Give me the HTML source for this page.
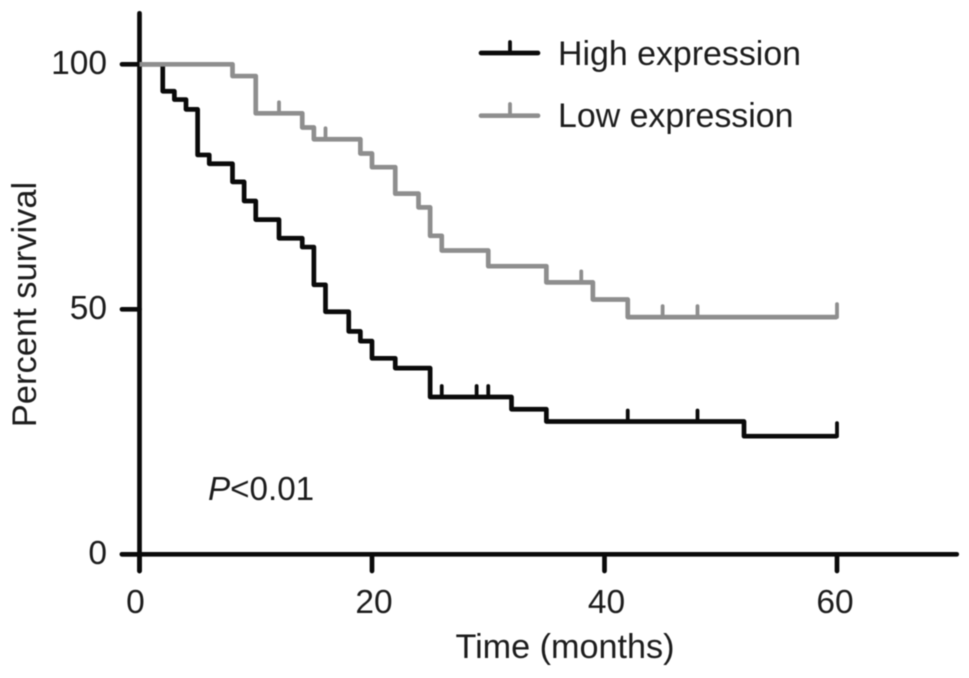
<!DOCTYPE html>
<html lang="en">
<head>
<meta charset="utf-8">
<title>Survival chart</title>
<style>
html,body{margin:0;padding:0;background:#fff;width:969px;height:678px;overflow:hidden}
svg{display:block;filter:blur(0.6px)}
text{font-family:"Liberation Sans",Arial,sans-serif;font-size:33.5px;fill:#1c1c1c}
</style>
</head>
<body>
<svg id="chart" xmlns="http://www.w3.org/2000/svg" width="969" height="678" viewBox="0 0 969 678"></svg>
<script>
const xTickLabels = [0, 20, 40, 60];
const yTickLabels = [0, 50, 100];
const highTimes = [0, 2, 3, 4, 5, 6, 8, 9, 10, 12, 14, 15, 16, 18, 19, 20, 22, 25, 32, 35, 52, 60];
const highSurvival = [100, 94.5, 92.8, 90.8, 81.5, 79.7, 76, 72.1, 68.3, 64.5, 62.7, 55, 49.5, 45.5, 43.5, 40, 38, 32.1, 29.6, 27.1, 24.1, 24.1];
const highCensored = [26, 29, 30, 42, 48, 60];
const lowTimes = [0, 8, 10, 14, 15, 19, 20, 22, 24, 25, 26, 30, 35, 39, 42, 60];
const lowSurvival = [100, 97.6, 90, 87.1, 84.7, 81.8, 79, 73.6, 70.8, 65, 62, 58.8, 55.5, 52, 48.4, 48.4];
const lowCensored = [12, 16, 38, 45, 48, 60];

const svg = document.getElementById('chart');
const NS = 'http://www.w3.org/2000/svg';
const xScale = v => 139.5 + v * 11.625;
const yScale = v => 554.3 - v * 4.9;
const X_AXIS_END = 70.3;
const Y_AXIS_END = 110.4;
const LINE_WIDTH = 4.7;
const CENSOR_WIDTH = 3.8;

function line(x1, y1, x2, y2, color, width) {
  const el = document.createElementNS(NS, 'line');
  el.setAttribute('x1', x1);
  el.setAttribute('y1', y1);
  el.setAttribute('x2', x2);
  el.setAttribute('y2', y2);
  el.setAttribute('stroke', color);
  el.setAttribute('stroke-width', width);
  el.setAttribute('stroke-linecap', 'round');
  svg.appendChild(el);
  return el;
}
function label(str, x, y, anchor, size) {
  const el = document.createElementNS(NS, 'text');
  el.setAttribute('x', x);
  el.setAttribute('y', y);
  el.setAttribute('text-anchor', anchor);
  if (size) el.style.fontSize = size + 'px';
  el.textContent = str;
  svg.appendChild(el);
  return el;
}
function stepValue(times, vals, t) {
  let v = vals[0];
  for (let i = 0; i < times.length; i++) {
    if (times[i] <= t) v = vals[i];
  }
  return v;
}
function drawSeries(times, vals, censored, color, name, tickLen) {
  let d = 'M' + xScale(times[0]) + ' ' + yScale(vals[0]);
  for (let i = 1; i < times.length; i++) {
    d += 'H' + xScale(times[i]) + 'V' + yScale(vals[i]);
  }
  const path = document.createElementNS(NS, 'path');
  path.setAttribute('d', d);
  path.setAttribute('fill', 'none');
  path.setAttribute('stroke', color);
  path.setAttribute('stroke-width', LINE_WIDTH);
  path.setAttribute('stroke-linejoin', 'round');
  
  
  svg.appendChild(path);
  censored.forEach(t => {
    const y = yScale(stepValue(times, vals, t));
    const end = t === 60 ? 13 : tickLen;
    const tick = line(xScale(t), y, xScale(t), y - end, color, CENSOR_WIDTH);
    
    
  });
}
function xLabelNudge(v) {
  if (v === 0) return -4;
  if (v === 60) return -2;
  return 2;
}

drawSeries(highTimes, highSurvival, highCensored, '#0a0a0a', 'high-expression', 11);

const yAxis = line(xScale(0), yScale(Y_AXIS_END), xScale(0), 571, '#0a0a0a', LINE_WIDTH);


const xAxis = line(122, yScale(0), xScale(X_AXIS_END), yScale(0), '#0a0a0a', LINE_WIDTH);



xTickLabels.forEach(v => {
  const t = line(xScale(v), yScale(0), xScale(v), 571, '#0a0a0a', LINE_WIDTH);
  
  
  const l = label(String(v), xScale(v) + xLabelNudge(v), 613, 'middle');
  
  
});
yTickLabels.forEach(v => {
  const t = line(122, yScale(v), xScale(0), yScale(v), '#0a0a0a', LINE_WIDTH);
  
  
  const l = label(String(v), 107, yScale(v) + 9.5, 'end');
  
  
});

drawSeries(lowTimes, lowSurvival, lowCensored, '#8e8e8e', 'low-expression', 11);

const xTitle = label('Time (months)', 565, 658, 'middle', 34.2);



const yTitle = label('Percent survival', 0, 0, 'middle', 34.5);
yTitle.setAttribute('transform', 'translate(36,304.5) rotate(-90)');



const pText = label('', 208, 500, 'start', 33.2);


const pItalic = document.createElementNS(NS, 'tspan');
pItalic.setAttribute('font-style', 'italic');
pItalic.textContent = 'P';
pText.appendChild(pItalic);
pText.appendChild(document.createTextNode('<0.01'));

const legHighLine = line(481, 53, 538, 53, '#0a0a0a', LINE_WIDTH);


const legHighTick = line(510, 53, 510, 42, '#0a0a0a', CENSOR_WIDTH);


const legHighText = label('High expression', 558, 65, 'start', 33.9);



const legLowLine = line(481, 115.7, 538, 115.7, '#8e8e8e', LINE_WIDTH);


const legLowTick = line(510, 115.7, 510, 104, '#8e8e8e', CENSOR_WIDTH);


const legLowText = label('Low expression', 558, 127, 'start', 33.9);


</script>
</body>
</html>
